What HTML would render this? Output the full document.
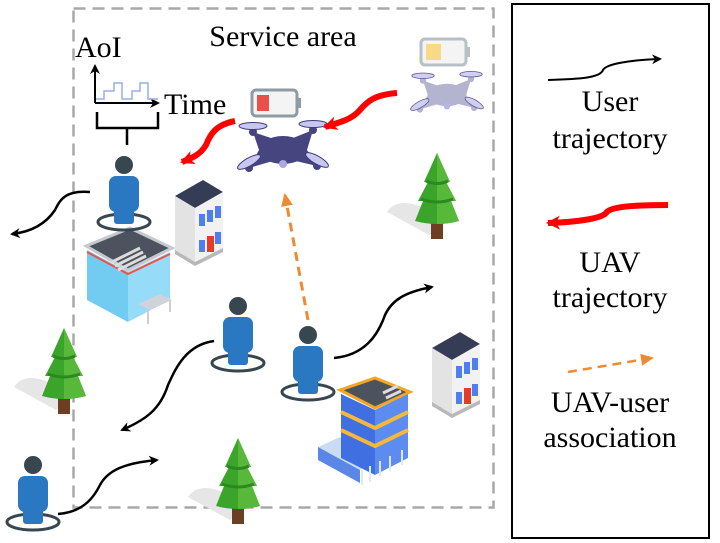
<!DOCTYPE html>
<html><head><meta charset="utf-8"><style>
html,body{margin:0;padding:0;background:#fff;}
svg{display:block;}
text{font-family:"Liberation Serif",serif;fill:#000;}
</style></head><body>
<svg width="720" height="543" viewBox="0 0 720 543" xmlns="http://www.w3.org/2000/svg">
<defs>
<marker id="ab" markerWidth="10" markerHeight="10" refX="8" refY="5" orient="auto" markerUnits="userSpaceOnUse"><path d="M0,0 L10,5 L0,10 L3,5z" fill="#000"/></marker>
<marker id="ar" markerWidth="16" markerHeight="14" refX="12" refY="7" orient="auto" markerUnits="userSpaceOnUse"><path d="M0,0 L14,7 L0,14 L4,7z" fill="#f00"/></marker>
<marker id="ao" markerWidth="14" markerHeight="12" refX="11" refY="6" orient="auto" markerUnits="userSpaceOnUse"><path d="M0,0 L13,6 L0,12z" fill="#f08a30"/></marker>
<g id="user">
<ellipse cx="0" cy="0" rx="26" ry="8" fill="none" stroke="#37474f" stroke-width="3"/>
<circle cx="0" cy="-57" r="9" fill="#37474f"/>
<rect x="-15" y="-46" width="30" height="36" rx="7" fill="#2b78c2"/>
<rect x="-10" y="-14" width="20" height="16" rx="3" fill="#2b78c2"/>
</g>
<g id="tree">
<path d="M-8,-2 L-50,-25 Q-40,-40 -15,-30 L5,-10z" fill="#e6e6e6"/>
<rect x="-6" y="-18" width="12" height="20" fill="#6d3f22"/>
<path d="M0,-84 L-13,-55 L-9,-55 L-19,-36 L-14,-36 L-22,-16 Q0,-10 22,-16 L14,-36 L19,-36 L9,-55 L13,-55z" fill="#3aa52a"/>
<path d="M0,-84 L13,-55 L9,-55 L19,-36 L14,-36 L22,-16 Q10,-13 0,-13z" fill="#58b83a"/>
<path d="M-16,-38 Q0,-32 16,-38 M-11,-56 Q0,-51 11,-56" stroke="#2a8a1f" stroke-width="3" fill="none"/>
</g>
<g id="drone">
<path d="M-30,-18 L0,-8 L30,-20 L24,0 L34,16 L0,8 L-34,18 L-24,0z"/>
<ellipse cx="0" cy="0" rx="24" ry="14"/>
<circle cx="-30" cy="-18" r="4"/><circle cx="30" cy="-20" r="4"/><circle cx="-34" cy="18" r="4"/><circle cx="34" cy="16" r="4"/>
<circle cx="0" cy="14" r="4" fill="#a9a8e0"/>
<g fill="#c8c7f2" stroke="#3e3d7a" stroke-width="1">
<ellipse cx="-30" cy="-24" rx="14" ry="3.5"/><ellipse cx="30" cy="-26" rx="14" ry="3.5"/>
<ellipse cx="-34" cy="12" rx="4" ry="13" transform="rotate(60 -34 12)"/><ellipse cx="34" cy="10" rx="4" ry="13" transform="rotate(-60 34 10)"/>
</g>
</g>
<g id="house">
<path d="M0,-14 L28,-30 L48,-18 L20,-2z" fill="#353c55"/>
<path d="M0,-14 L20,-2 L20,52 L0,40z" fill="#e3e3e3"/>
<path d="M20,-2 L48,-18 L48,38 L20,52z" fill="#f2f2f2"/>
<g fill="#4f7ef0"><rect x="24" y="4" width="6" height="12"/><rect x="32" y="0" width="6" height="12"/><rect x="40" y="-4" width="6" height="12"/><rect x="24" y="30" width="6" height="12"/><rect x="40" y="22" width="6" height="12"/></g>
<rect x="32" y="26" width="7" height="16" fill="#e53c2a"/>
<path d="M0,40 L20,52 L48,38 L48,42 L20,56 L0,44z" fill="#b8b8b8"/>
</g>
</defs>

<rect x="73.5" y="8.5" width="420" height="499" fill="none" stroke="#a8a8a8" stroke-width="2.5" stroke-dasharray="12,7"/>
<text x="283" y="46" font-size="30" text-anchor="middle">Service area</text>

<text x="75" y="57" font-size="30">AoI</text>
<text x="164" y="114" font-size="30">Time</text>
<path d="M95,103 L95,66" stroke="#000" stroke-width="2" marker-end="url(#ab)"/>
<path d="M95,103 L158,103" stroke="#000" stroke-width="2" marker-end="url(#ab)"/>
<path d="M96,99 L104,99 L104,91 L114,91 L114,83 L122,83 L122,99 L132,99 L132,91 L140,91 L140,83 L148,83 L148,99 L158,99" stroke="#93b0e6" stroke-width="1.5" fill="none"/>
<path d="M97,112 L97,128 L127,128 L127,145 M127,128 L158,128 L158,112" stroke="#000" stroke-width="2.5" fill="none"/>

<g transform="translate(252,90)"><rect x="0" y="0" width="45" height="26" rx="4" fill="#f4f4f4" stroke="#8f9ba4" stroke-width="3"/><rect x="45" y="8" width="4" height="10" fill="#8f9ba4"/><rect x="5" y="5" width="12" height="16" fill="#e8504a"/></g>
<g transform="translate(421,39)"><rect x="0" y="0" width="45" height="26" rx="4" fill="#f4f4f4" stroke="#b7c0c6" stroke-width="3"/><rect x="45" y="8" width="4" height="10" fill="#b7c0c6"/><rect x="5" y="5" width="15" height="16" fill="#f8d985"/></g>

<g transform="translate(283,150)" fill="#46457f"><use href="#drone"/></g>
<g transform="translate(447,95) scale(0.8)" fill="#a8a6c8" opacity="0.85"><use href="#drone"/></g>

<path d="M397,93 C370,95 365,105 358,112 C350,120 340,122 325,127" stroke="#f00" stroke-width="6" fill="none" marker-end="url(#ar)"/>
<path d="M235,121 C215,125 210,135 206,145 C200,155 192,158 182,162" stroke="#f00" stroke-width="6" fill="none" marker-end="url(#ar)"/>

<path d="M308,320 L285,195" stroke="#f08a30" stroke-width="3" stroke-dasharray="9,6" fill="none" marker-end="url(#ao)"/>

<g transform="translate(175,210)"><use href="#house"/></g>
<g transform="translate(432,362)"><use href="#house"/></g>
<g>
<path d="M86,246 L130,228 L172,248 L128,270z" fill="#4c535e" stroke="#c6c9d0" stroke-width="3"/>
<path d="M87,250 L128,272 L128,322 L87,300z" fill="#72ccf2"/>
<path d="M128,272 L170,252 L170,300 L128,322z" fill="#96dcf8"/>
<path d="M87,252 L128,274 L170,254" stroke="#f0524a" stroke-width="2" fill="none"/>
<path d="M112,262 L140,248 M115,266 L143,252 M118,270 L146,256" stroke="#ddd" stroke-width="3"/>
<path d="M138,304 L160,294 L172,300 L150,310z" fill="#d0d3da"/>
<path d="M148,310 L148,324 M170,300 L170,312" stroke="#cfcfcf" stroke-width="2"/>
</g>
<g>
<path d="M318,447 L340,437 L380,457 L360,470z" fill="#c8dcf5"/>
<path d="M318,447 L360,470 L360,483 L318,460z" fill="#5a86e6"/>
<path d="M340,390 L375,378 L410,392 L375,408z" fill="#4c535e" stroke="#f5a623" stroke-width="3"/>
<path d="M341,394 L375,410 L375,475 L341,458z" fill="#3f6fe0"/>
<path d="M375,410 L408,394 L408,458 L375,475z" fill="#5c8cf0"/>
<path d="M341,412 L375,428 L408,412 M341,430 L375,446 L408,430" stroke="#f5b83a" stroke-width="4" fill="none"/>
<path d="M383,393 L398,386 M386,398 L401,391" stroke="#ddd" stroke-width="3"/>
<path d="M362,470 L362,485 M370,466 L370,482 M380,461 L380,476 M390,456 L390,471 M402,450 L402,465" stroke="#dfe8f6" stroke-width="2"/>
</g>

<g transform="translate(437,237)"><use href="#tree"/></g>
<g transform="translate(64,412)"><use href="#tree"/></g>
<g transform="translate(238,522)"><use href="#tree"/></g>

<g transform="translate(124,222)"><use href="#user"/></g>
<g transform="translate(238,363)"><use href="#user"/></g>
<g transform="translate(308,392)"><use href="#user"/></g>
<g transform="translate(33,522)"><use href="#user"/></g>

<path d="M90,192 C65,190 60,200 55,210 C45,225 30,232 12,234" stroke="#000" stroke-width="2.5" fill="none" marker-end="url(#ab)"/>
<path d="M214,341 C185,345 175,370 168,385 C160,410 145,420 122,430" stroke="#000" stroke-width="2.5" fill="none" marker-end="url(#ab)"/>
<path d="M334,358 C365,355 378,335 385,315 C392,300 405,292 432,287" stroke="#000" stroke-width="2.5" fill="none" marker-end="url(#ab)"/>
<path d="M58,514 C85,512 95,495 100,485 C108,470 125,463 157,460" stroke="#000" stroke-width="2.5" fill="none" marker-end="url(#ab)"/>

<rect x="512" y="4" width="197" height="534" fill="none" stroke="#000" stroke-width="2"/>
<path d="M548,80 C580,79 600,78 603,70 C606,64 630,60 660,59" stroke="#000" stroke-width="2" fill="none" marker-end="url(#ab)"/>
<text x="610" y="111" font-size="30" text-anchor="middle">User</text>
<text x="610" y="148" font-size="30" text-anchor="middle">trajectory</text>
<path d="M668,205 C630,205 610,207 606,213 C602,218 580,222 548,223" stroke="#f00" stroke-width="6" fill="none" marker-end="url(#ar)"/>
<text x="610" y="272" font-size="30" text-anchor="middle">UAV</text>
<text x="610" y="307" font-size="30" text-anchor="middle">trajectory</text>
<path d="M568,372 L652,358" stroke="#f08a30" stroke-width="2.5" stroke-dasharray="9,6" fill="none" marker-end="url(#ao)"/>
<text x="610" y="412" font-size="30" text-anchor="middle">UAV-user</text>
<text x="610" y="447" font-size="30" text-anchor="middle">association</text>
</svg>
</body></html>
